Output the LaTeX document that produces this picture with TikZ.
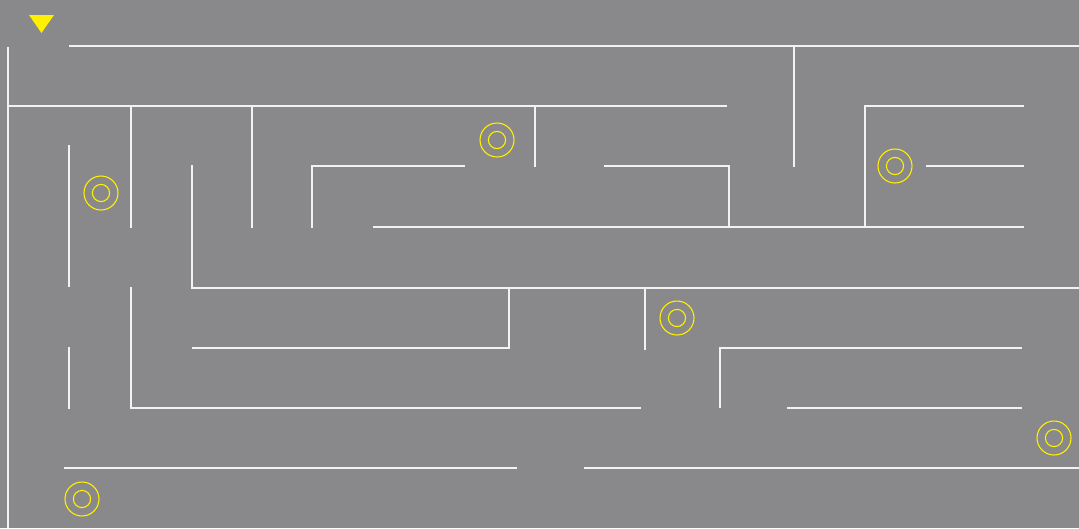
\documentclass[tikz,border=0pt]{standalone}
\definecolor{bg}{RGB}{137,136,138}
\definecolor{wall}{RGB}{242,242,242}
\definecolor{goal}{RGB}{255,240,0}
\tikzset{
  wallline/.style={draw=wall, line width=1.8pt, line cap=butt},
  target/.style={draw=goal, line width=1.1pt},
  marker/.style={fill=goal, draw=none}
}
\begin{document}
\begin{tikzpicture}[x=1pt,y=-1pt]
\fill[bg] (0,0) rectangle (1079,528);
\useasboundingbox (0,0) rectangle (1079,528);
% walls
\draw[wallline] (69,46) -- (1079,46);
\draw[wallline] (8,47) -- (8,528);
\draw[wallline] (8,106) -- (727,106);
\draw[wallline] (131,106) -- (131,228);
\draw[wallline] (252,106) -- (252,228);
\draw[wallline] (69,145) -- (69,287);
\draw[wallline] (192,165) -- (192,288) -- (1079,288);
\draw[wallline] (312,228) -- (312,166) -- (465,166);
\draw[wallline] (535,106) -- (535,167);
\draw[wallline] (604,166) -- (729,166) -- (729,227);
\draw[wallline] (373,227) -- (1024,227);
\draw[wallline] (794,46) -- (794,167);
\draw[wallline] (865,227) -- (865,106) -- (1024,106);
\draw[wallline] (926,166) -- (1024,166);
\draw[wallline] (69,347) -- (69,409);
\draw[wallline] (131,287) -- (131,408) -- (641,408);
\draw[wallline] (192,348) -- (509,348) -- (509,288);
\draw[wallline] (645,288) -- (645,350);
\draw[wallline] (64,468) -- (517,468);
\draw[wallline] (584,468) -- (1079,468);
\draw[wallline] (720,408) -- (720,348) -- (1022,348);
\draw[wallline] (787,408) -- (1022,408);
% targets
\foreach \p in {(101,193),(497,140),(895,166),(677,318),(1054,438),(82,499)}{
  \draw[target] \p circle (17);
  \draw[target] \p circle (8.6);
}
% start marker
\fill[marker] (29,15) -- (54,15) -- (41.5,33) -- cycle;
\end{tikzpicture}
\end{document}
